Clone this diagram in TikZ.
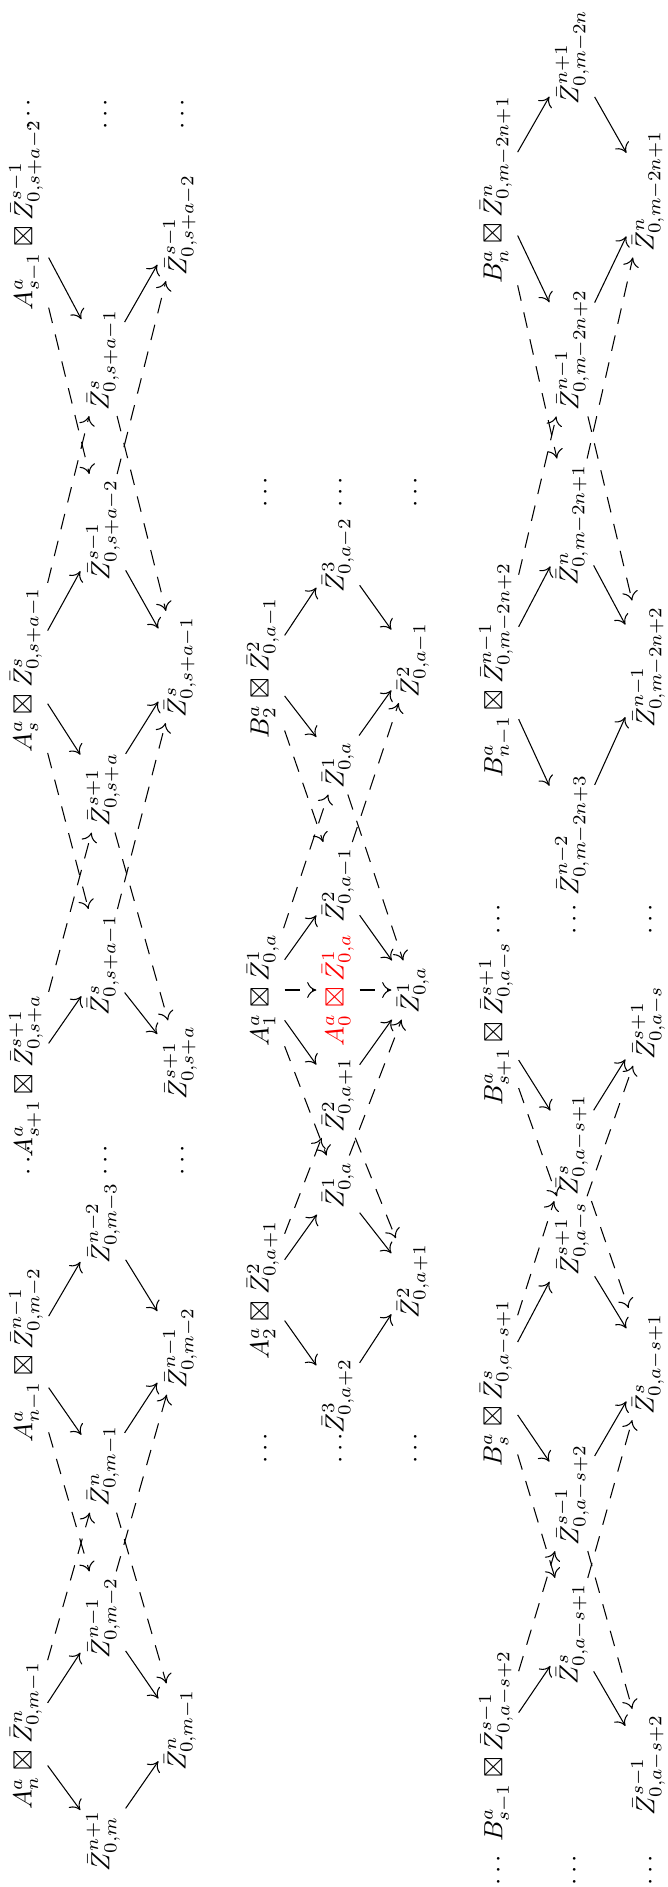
\documentclass[tikz,border=0pt]{standalone}
\usepackage{amsmath,amssymb}
\usetikzlibrary{arrows.meta}
\tikzset{
  obj/.style={rotate=90, inner sep=2pt},
  flecha/.style={-{Computer Modern Rightarrow[length=3.5pt,width=6pt]}},
  discont/.style={flecha, dash pattern=on 6pt off 4.5pt},
}
\newcommand{\Zb}[2]{\bar{Z}^{#1}_{0,#2}}
\begin{document}
\begin{tikzpicture}[x=0.38pt, y=-0.38pt]
	\useasboundingbox (0,0) rectangle (667,1887);
	% primera fila
	\node[obj] (t1a) at (26,1736) {$A^a_n\boxtimes\Zb{n}{m-1}$};
	\node[obj] (t1b) at (26,1355) {$A^a_{n-1}\boxtimes\Zb{n-1}{m-2}$};
	\node[obj] (p1a) at (29,1158) {$\cdots$};
	\node[obj] (t1c) at (26,1076) {$A^a_{s+1}\boxtimes\Zb{s+1}{s+a}$};
	\node[obj] (t1d) at (26,670) {$A^a_s\boxtimes\Zb{s}{s+a-1}$};
	\node[obj] (t1e) at (26,215) {$A^a_{s-1}\boxtimes\Zb{s-1}{s+a-2}$};
	\node[obj] (p1d) at (29,112) {$\cdots$};
	\node[obj] (m1a) at (103,1841) {$\Zb{n+1}{m}$};
	\node[obj] (m1b) at (103,1618) {$\Zb{n-1}{m-2}$};
	\node[obj] (m1c) at (103,1466) {$\Zb{n}{m-1}$};
	\node[obj] (m1d) at (103,1223) {$\Zb{n-2}{m-3}$};
	\node[obj] (p1b) at (106,1158) {$\cdots$};
	\node[obj] (m1e) at (103,965) {$\Zb{s}{s+a-1}$};
	\node[obj] (m1f) at (103,790) {$\Zb{s+1}{s+a}$};
	\node[obj] (m1g) at (103,530) {$\Zb{s-1}{s+a-2}$};
	\node[obj] (m1h) at (103,360) {$\Zb{s}{s+a-1}$};
	\node[obj] (p1e) at (106,112) {$\cdots$};
	\node[obj] (b1a) at (180,1730) {$\Zb{n}{m-1}$};
	\node[obj] (b1b) at (180,1348) {$\Zb{n-1}{m-2}$};
	\node[obj] (p1c) at (183,1158) {$\cdots$};
	\node[obj] (b1c) at (180,1063) {$\Zb{s+1}{s+a}$};
	\node[obj] (b1d) at (180,667) {$\Zb{s}{s+a-1}$};
	\node[obj] (b1e) at (180,225) {$\Zb{s-1}{s+a-2}$};
	\node[obj] (p1f) at (183,112) {$\cdots$};
	\path[flecha] (t1a) edge (m1a) edge (m1b) (m1a) edge (b1a) (m1b) edge (b1a)
		(t1b) edge (m1c) edge (m1d) (m1c) edge (b1b) (m1d) edge (b1b)
		(t1c) edge (m1e) (m1e) edge (b1c)
		(t1d) edge (m1f) edge (m1g) (m1f) edge (b1d) (m1g) edge (b1d)
		(t1e) edge (m1h) (m1h) edge (b1e);
	\path[discont] (t1a) edge (m1c) (t1b) edge (m1b) (m1c) edge (b1a) (m1b) edge (b1b)
		(t1c) edge (m1f) (t1d) edge (m1e) (m1f) edge (b1c) (m1e) edge (b1d)
		(t1d) edge (m1h) (t1e) edge (m1g) (m1h) edge (b1d) (m1g) edge (b1e);
	% segunda fila
	\node[obj] (p2a) at (266,1446) {$\cdots$};
	\node[obj] (p2b) at (341,1446) {$\cdots$};
	\node[obj] (p2c) at (416,1446) {$\cdots$};
	\node[obj] (t2a) at (263,1290) {$A^a_2\boxtimes\Zb{2}{a+1}$};
	\node[obj] (m2a) at (338,1396) {$\Zb{3}{a+2}$};
	\node[obj] (m2b) at (338,1185) {$\Zb{1}{a}$};
	\node[obj] (b2a) at (413,1281) {$\Zb{2}{a+1}$};
	\node[obj] (t2b) at (263,990) {$A^a_1\boxtimes\Zb{1}{a}$};
	\node[obj] (m2c) at (338,1095) {$\Zb{2}{a+1}$};
	\node[obj, text=red] (m2r) at (338,990) {$A^a_0\boxtimes\Zb{1}{a}$};
	\node[obj] (m2d) at (338,885) {$\Zb{2}{a-1}$};
	\node[obj] (b2b) at (413,990) {$\Zb{1}{a}$};
	\node[obj] (t2c) at (263,668) {$B^a_2\boxtimes\Zb{2}{a-1}$};
	\node[obj] (m2e) at (338,765) {$\Zb{1}{a}$};
	\node[obj] (m2f) at (338,555) {$\Zb{3}{a-2}$};
	\node[obj] (b2c) at (413,660) {$\Zb{2}{a-1}$};
	\node[obj] (p2d) at (266,490) {$\cdots$};
	\node[obj] (p2e) at (341,490) {$\cdots$};
	\node[obj] (p2f) at (416,490) {$\cdots$};
	\path[flecha] (t2a) edge (m2a) edge (m2b) (m2a) edge (b2a) (m2b) edge (b2a)
		(t2b) edge (m2c) edge (m2d) (m2c) edge (b2b) (m2d) edge (b2b)
		(t2c) edge (m2e) edge (m2f) (m2e) edge (b2c) (m2f) edge (b2c);
	\path[discont] (t2a) edge (m2c) (t2b) edge (m2b) (m2c) edge (b2a) (m2b) edge (b2b)
		(t2b) edge (m2e) (t2c) edge (m2d) (m2e) edge (b2b) (m2d) edge (b2c)
		(t2b) edge (m2r) (m2r) edge (b2b);
	% tercera fila
	\node[obj] (p3a) at (499,1868) {$\cdots$};
	\node[obj] (p3b) at (575,1868) {$\cdots$};
	\node[obj] (p3c) at (651,1868) {$\cdots$};
	\node[obj] (t3a) at (496,1746) {$B^a_{s-1}\boxtimes\Zb{s-1}{a-s+2}$};
	\node[obj] (m3a) at (572,1634) {$\Zb{s}{a-s+1}$};
	\node[obj] (b3a) at (648,1765) {$\Zb{s-1}{a-s+2}$};
	\node[obj] (t3b) at (496,1383) {$B^a_s\boxtimes\Zb{s}{a-s+1}$};
	\node[obj] (m3b) at (572,1495) {$\Zb{s-1}{a-s+2}$};
	\node[obj] (m3c) at (572,1239) {$\Zb{s+1}{a-s}$};
	\node[obj] (b3b) at (648,1364) {$\Zb{s}{a-s+1}$};
	\node[obj] (t3c) at (496,1024) {$B^a_{s+1}\boxtimes\Zb{s+1}{a-s}$};
	\node[obj] (m3d) at (572,1145) {$\Zb{s}{a-s+1}$};
	\node[obj] (b3c) at (648,1023) {$\Zb{s+1}{a-s}$};
	\node[obj] (p3d) at (499,917) {$\cdots$};
	\node[obj] (p3e) at (575,917) {$\cdots$};
	\node[obj] (p3f) at (651,917) {$\cdots$};
	\node[obj] (m3e) at (572,835) {$\Zb{n-2}{m-2n+3}$};
	\node[obj] (t3d) at (496,670) {$B^a_{n-1}\boxtimes\Zb{n-1}{m-2n+2}$};
	\node[obj] (m3f) at (572,525) {$\Zb{n}{m-2n+1}$};
	\node[obj] (b3d) at (648,667) {$\Zb{n-1}{m-2n+2}$};
	\node[obj] (t3e) at (496,190) {$B^a_n\boxtimes\Zb{n}{m-2n+1}$};
	\node[obj] (m3g) at (572,350) {$\Zb{n-1}{m-2n+2}$};
	\node[obj] (m3h) at (572,57) {$\Zb{n+1}{m-2n}$};
	\node[obj] (b3e) at (648,191) {$\Zb{n}{m-2n+1}$};
	\path[flecha] (t3a) edge (m3a) (m3a) edge (b3a)
		(t3b) edge (m3b) edge (m3c) (m3b) edge (b3b) (m3c) edge (b3b)
		(t3c) edge (m3d) (m3d) edge (b3c)
		(t3d) edge (m3e) edge (m3f) (m3e) edge (b3d) (m3f) edge (b3d)
		(t3e) edge (m3g) edge (m3h) (m3g) edge (b3e) (m3h) edge (b3e);
	\path[discont] (t3a) edge (m3b) (t3b) edge (m3a) (m3b) edge (b3a) (m3a) edge (b3b)
		(t3b) edge (m3d) (t3c) edge (m3c) (m3d) edge (b3b) (m3c) edge (b3c)
		(t3d) edge (m3g) (t3e) edge (m3f) (m3g) edge (b3d) (m3f) edge (b3e);
\end{tikzpicture}
\end{document}
